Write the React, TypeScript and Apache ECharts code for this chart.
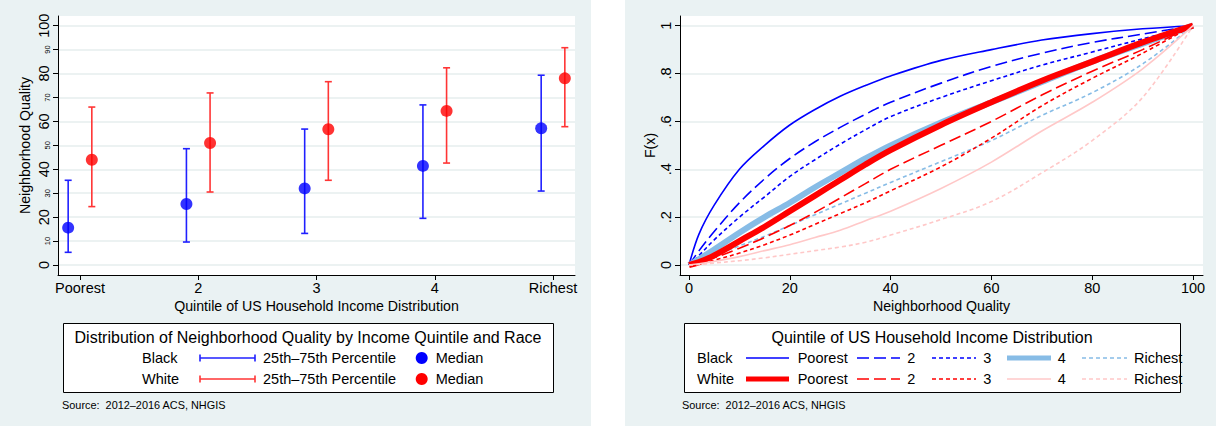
import React, { useEffect, useRef } from "react";
import * as echarts from "echarts";

const FONT = "'Liberation Sans', Arial, Helvetica, sans-serif";

// ---------- Left panel data ----------
const quintiles = ["Poorest", "2", "3", "4", "Richest"];
const blackMedian = [15.6, 25.5, 32.0, 41.4, 57.1];
const blackP25 = [5.3, 9.6, 13.2, 19.5, 30.9];
const blackP75 = [35.4, 48.6, 56.8, 66.9, 79.3];
const whiteMedian = [44.0, 51.0, 56.7, 64.4, 78.0];
const whiteP25 = [24.4, 30.5, 35.4, 42.6, 57.8];
const whiteP75 = [66.0, 71.9, 76.6, 82.4, 90.8];
const leftYTicks = [0, 10, 20, 30, 40, 50, 60, 70, 80, 90, 100];

// ---------- Right panel data (CDFs) ----------
const xGrid = [0, 2, 5, 10, 15, 20, 25, 30, 35, 40, 50, 60, 70, 80, 90, 100];
const blackPoorest = [0, 0.13, 0.25, 0.4, 0.5, 0.585, 0.65, 0.705, 0.75, 0.79, 0.855, 0.9, 0.94, 0.967, 0.987, 1];
const black2 = [0, 0.06, 0.14, 0.26, 0.36, 0.445, 0.515, 0.575, 0.63, 0.68, 0.76, 0.83, 0.885, 0.93, 0.965, 1];
const black3 = [0, 0.04, 0.105, 0.2, 0.285, 0.37, 0.44, 0.505, 0.565, 0.62, 0.7, 0.77, 0.835, 0.89, 0.945, 1];
const black4 = [0, 0.025, 0.065, 0.135, 0.2, 0.26, 0.325, 0.385, 0.445, 0.5, 0.595, 0.68, 0.765, 0.85, 0.925, 1];
const blackRichest = [0, 0.015, 0.04, 0.08, 0.12, 0.165, 0.21, 0.255, 0.3, 0.345, 0.432, 0.52, 0.625, 0.72, 0.84, 1];
const whitePoorest = [0, 0.012, 0.04, 0.1, 0.16, 0.225, 0.29, 0.355, 0.42, 0.48, 0.585, 0.68, 0.77, 0.85, 0.93, 1];
const white2 = [0, 0.01, 0.03, 0.07, 0.115, 0.165, 0.22, 0.28, 0.34, 0.4, 0.5, 0.6, 0.71, 0.81, 0.9, 1];
const white3 = [0, 0.008, 0.02, 0.05, 0.085, 0.125, 0.17, 0.215, 0.26, 0.31, 0.41, 0.53, 0.665, 0.78, 0.885, 1];
const white4 = [0, 0.005, 0.015, 0.035, 0.06, 0.085, 0.115, 0.145, 0.185, 0.225, 0.32, 0.43, 0.56, 0.68, 0.82, 1];
const whiteRichest = [0, 0.002, 0.008, 0.018, 0.03, 0.045, 0.06, 0.075, 0.095, 0.125, 0.19, 0.265, 0.385, 0.52, 0.7, 1];
const rightXTicks = [0, 20, 40, 60, 80, 100];
const rightYTicks = [0, 0.2, 0.4, 0.6, 0.8, 1];

const BLUE = "#0000ff";
const RED = "#ff0000";
const BAR_BLUE = "#2020ff";
const BAR_RED = "#ff3535";
const LTBLUE = "#87bce6";
const PINK = "#ffc8c8";
const GRIDC = "#e6eeee";

const pairs = (ys: number[]) => xGrid.map((x, i) => [x, ys[i]]);

function errorBarSeries(name: string, xs: number[], lo: number[], hi: number[], color: string) {
  return {
    type: "custom",
    name,
    xAxisIndex: 0,
    yAxisIndex: 0,
    data: xs.map((x, i) => [x, lo[i], hi[i]]),
    z: 3,
    renderItem: (params: any, api: any) => {
      const x = api.value(0);
      const a = api.coord([x, api.value(1)]);
      const b = api.coord([x, api.value(2)]);
      const h = 3.5;
      const st = { stroke: color, lineWidth: 1.6 };
      return {
        type: "group",
        children: [
          { type: "line", shape: { x1: a[0], y1: a[1], x2: b[0], y2: b[1] }, style: st },
          { type: "line", shape: { x1: a[0] - h, y1: a[1], x2: a[0] + h, y2: a[1] }, style: st },
          { type: "line", shape: { x1: b[0] - h, y1: b[1], x2: b[0] + h, y2: b[1] }, style: st },
        ],
      };
    },
  };
}

function cdfSeries(name: string, ys: number[], color: string, width: number, dash: any) {
  return {
    type: "line",
    name,
    xAxisIndex: 1,
    yAxisIndex: 1,
    data: pairs(ys),
    showSymbol: false,
    smooth: 0.35,
    lineStyle: { color, width, type: dash },
  };
}

function buildOption() {
  const blackX = quintiles.map((_, i) => i + 1 - 0.1);
  const whiteX = quintiles.map((_, i) => i + 1 + 0.1);

  const axisLineStyle = { show: true, onZero: false, lineStyle: { color: "#000", width: 1 } };

  const legendText = (x: number, y: number, text: string, extra: any = {}) => ({
    type: "text",
    x,
    y,
    style: { text, fontFamily: FONT, fontSize: 14.5, fill: "#000", align: "left", verticalAlign: "middle", ...extra },
    z: 10,
  });
  const seg = (x1: number, x2: number, y: number, stroke: string, lineWidth: number, lineDash?: number[]) => ({
    type: "line",
    shape: { x1, y1: y, x2, y2: y },
    style: { stroke, lineWidth, lineDash },
    z: 10,
  });
  const errSample = (x1: number, x2: number, y: number, color: string) => [
    seg(x1, x2, y, color, 1.6),
    { type: "line", shape: { x1, y1: y - 3.5, x2: x1, y2: y + 3.5 }, style: { stroke: color, lineWidth: 1.6 }, z: 10 },
    { type: "line", shape: { x1: x2, y1: y - 3.5, x2, y2: y + 3.5 }, style: { stroke: color, lineWidth: 1.6 }, z: 10 },
  ];

  const r1 = 358;
  const r2 = 379;
  const TITLE = { align: "center", fontSize: 16 };
  const SRC = { fontSize: 10.9 };

  const graphics: any[] = [
    // left legend
    { type: "rect", shape: { x: 63.5, y: 323.5, width: 490, height: 69 }, style: { fill: "#fff", stroke: "#000", lineWidth: 1 }, z: 9 },
    legendText(308, 337, "Distribution of Neighborhood Quality by Income Quintile and Race", TITLE),
    legendText(142, r1, "Black"),
    ...errSample(200, 255, r1, BAR_BLUE),
    legendText(263, r1, "25th\u201375th Percentile"),
    { type: "circle", shape: { cx: 421.7, cy: r1, r: 6 }, style: { fill: BLUE }, z: 10 },
    legendText(435.7, r1, "Median"),
    legendText(142, r2, "White"),
    ...errSample(200, 255, r2, BAR_RED),
    legendText(263, r2, "25th\u201375th Percentile"),
    { type: "circle", shape: { cx: 421.7, cy: r2, r: 6 }, style: { fill: RED }, z: 10 },
    legendText(435.7, r2, "Median"),
    legendText(62, 405, "Source:  2012\u20132016 ACS, NHGIS", SRC),

    // right legend
    { type: "rect", shape: { x: 684.5, y: 323.5, width: 496, height: 69 }, style: { fill: "#fff", stroke: "#000", lineWidth: 1 }, z: 9 },
    legendText(932, 337, "Quintile of US Household Income Distribution", TITLE),
    legendText(697, r1, "Black"),
    seg(746, 789, r1, BLUE, 1.6),
    legendText(797.7, r1, "Poorest"),
    seg(857, 900, r1, BLUE, 1.6, [12, 5]),
    legendText(907.3, r1, "2"),
    seg(932, 976, r1, BLUE, 1.6, [4, 3]),
    legendText(983.3, r1, "3"),
    seg(1007, 1051, r1, LTBLUE, 5),
    legendText(1057.7, r1, "4"),
    seg(1082, 1127, r1, LTBLUE, 1.6, [4, 3]),
    legendText(1134, r1, "Richest"),
    legendText(697, r2, "White"),
    seg(746, 789, r2, RED, 5),
    legendText(797.7, r2, "Poorest"),
    seg(857, 900, r2, RED, 1.6, [12, 5]),
    legendText(907.3, r2, "2"),
    seg(932, 976, r2, RED, 1.6, [4, 3]),
    legendText(983.3, r2, "3"),
    seg(1007, 1051, r2, PINK, 1.6),
    legendText(1057.7, r2, "4"),
    seg(1082, 1127, r2, PINK, 1.6, [4, 3]),
    legendText(1134, r2, "Richest"),
    legendText(682, 405, "Source:  2012\u20132016 ACS, NHGIS", SRC),
  ];

  const NAME_STYLE = { fontSize: 14.2, color: "#000", fontFamily: FONT };

  return {
    animation: false,
    textStyle: { fontFamily: FONT },
    grid: [
      { left: 58, top: 16, width: 517, height: 259, show: true, backgroundColor: "#fff", borderWidth: 0 },
      { left: 680, top: 16, width: 523, height: 259, show: true, backgroundColor: "#fff", borderWidth: 0 },
    ],
    xAxis: [
      {
        gridIndex: 0,
        type: "value",
        min: 0.814,
        max: 5.186,
        axisLine: axisLineStyle,
        axisTick: { show: true, length: 5, customValues: [1, 2, 3, 4, 5], lineStyle: { color: "#000" } },
        axisLabel: {
          customValues: [1, 2, 3, 4, 5],
          formatter: (v: number) => quintiles[Math.round(v) - 1],
          fontSize: 14.5,
          color: "#000",
          margin: 5,
          fontFamily: FONT,
        },
        splitLine: { show: false },
        name: "Quintile of US Household Income Distribution",
        nameLocation: "middle",
        nameGap: 24,
        nameMoveOverlap: false,
        nameTextStyle: NAME_STYLE,
      },
      {
        gridIndex: 1,
        type: "value",
        min: -1.786,
        max: 101.98,
        axisLine: axisLineStyle,
        axisTick: { show: true, length: 5, customValues: rightXTicks, lineStyle: { color: "#000" } },
        axisLabel: { customValues: rightXTicks, fontSize: 14.5, color: "#000", margin: 5, fontFamily: FONT },
        splitLine: { show: false },
        name: "Neighborhood Quality",
        nameLocation: "middle",
        nameGap: 24,
        nameMoveOverlap: false,
        nameTextStyle: NAME_STYLE,
      },
    ],
    yAxis: [
      {
        gridIndex: 0,
        type: "value",
        min: -4.18,
        max: 104.05,
        axisLine: axisLineStyle,
        axisTick: { show: true, length: 5, customValues: leftYTicks, lineStyle: { color: "#000" } },
        axisLabel: {
          customValues: leftYTicks,
          rotate: 90,
          margin: 7,
          formatter: (v: number) => (Math.round(v) % 20 === 0 ? `{b|${Math.round(v)}}` : `{s|${Math.round(v)}}`),
          rich: {
            b: { fontSize: 14.5, color: "#000", fontFamily: FONT },
            s: { fontSize: 7.5, color: "#000", fontFamily: FONT },
          },
        },
        splitLine: { show: true, lineStyle: { color: GRIDC, width: 1.5 } },
        name: "Neighborhood Quality",
        nameLocation: "middle",
        nameGap: 26,
        nameTextStyle: NAME_STYLE,
      },
      {
        gridIndex: 1,
        type: "value",
        min: -0.0418,
        max: 1.0405,
        axisLine: axisLineStyle,
        axisTick: { show: true, length: 5, customValues: rightYTicks, lineStyle: { color: "#000" } },
        axisLabel: {
          customValues: rightYTicks,
          rotate: 90,
          margin: 7,
          fontSize: 14.5,
          color: "#000",
          fontFamily: FONT,
          formatter: (v: number) => {
            const r = Math.round(v * 10) / 10;
            if (r === 0) return "0";
            if (r === 1) return "1";
            return "." + Math.round(r * 10);
          },
        },
        splitLine: { show: true, lineStyle: { color: GRIDC, width: 1.5 } },
        name: "F(x)",
        nameLocation: "middle",
        nameGap: 23,
        nameTextStyle: NAME_STYLE,
      },
    ],
    graphic: graphics,
    series: [
      errorBarSeries("Black 25th–75th Percentile", blackX, blackP25, blackP75, BAR_BLUE),
      errorBarSeries("White 25th–75th Percentile", whiteX, whiteP25, whiteP75, BAR_RED),
      {
        type: "scatter",
        name: "Black Median",
        xAxisIndex: 0,
        yAxisIndex: 0,
        data: blackX.map((x, i) => [x, blackMedian[i]]),
        symbol: "circle",
        symbolSize: 12,
        itemStyle: { color: BLUE },
        z: 4,
      },
      {
        type: "scatter",
        name: "White Median",
        xAxisIndex: 0,
        yAxisIndex: 0,
        data: whiteX.map((x, i) => [x, whiteMedian[i]]),
        symbol: "circle",
        symbolSize: 12,
        itemStyle: { color: RED },
        z: 4,
      },
      cdfSeries("Black Poorest", blackPoorest, BLUE, 1.6, "solid"),
      cdfSeries("Black 2", black2, BLUE, 1.6, [12, 5]),
      cdfSeries("Black 3", black3, BLUE, 1.6, [4, 3]),
      cdfSeries("Black 4", black4, LTBLUE, 6, "solid"),
      cdfSeries("Black Richest", blackRichest, LTBLUE, 1.6, [4, 3]),
      cdfSeries("White Poorest", whitePoorest, RED, 6, "solid"),
      cdfSeries("White 2", white2, RED, 1.6, [12, 5]),
      cdfSeries("White 3", white3, RED, 1.6, [4, 3]),
      cdfSeries("White 4", white4, PINK, 1.6, "solid"),
      cdfSeries("White Richest", whiteRichest, PINK, 1.6, [4, 3]),
    ],
  };
}

export default function App() {
  const ref = useRef<HTMLDivElement>(null);
  useEffect(() => {
    if (!ref.current) return;
    const chart = echarts.init(ref.current, null, { renderer: "svg" });
    chart.setOption(buildOption() as any);
    return () => chart.dispose();
  }, []);
  return (
    <div style={{ position: "fixed", left: 0, top: 0, width: 1216, height: 426, background: "#fff", overflow: "hidden" }}>
      <div style={{ position: "absolute", left: 0, top: 0, width: 591, height: 426, background: "#eaf2f3" }} />
      <div style={{ position: "absolute", left: 625, top: 0, width: 591, height: 426, background: "#eaf2f3" }} />
      <div ref={ref} style={{ position: "absolute", left: 0, top: 0, width: 1216, height: 426 }} />
    </div>
  );
}
